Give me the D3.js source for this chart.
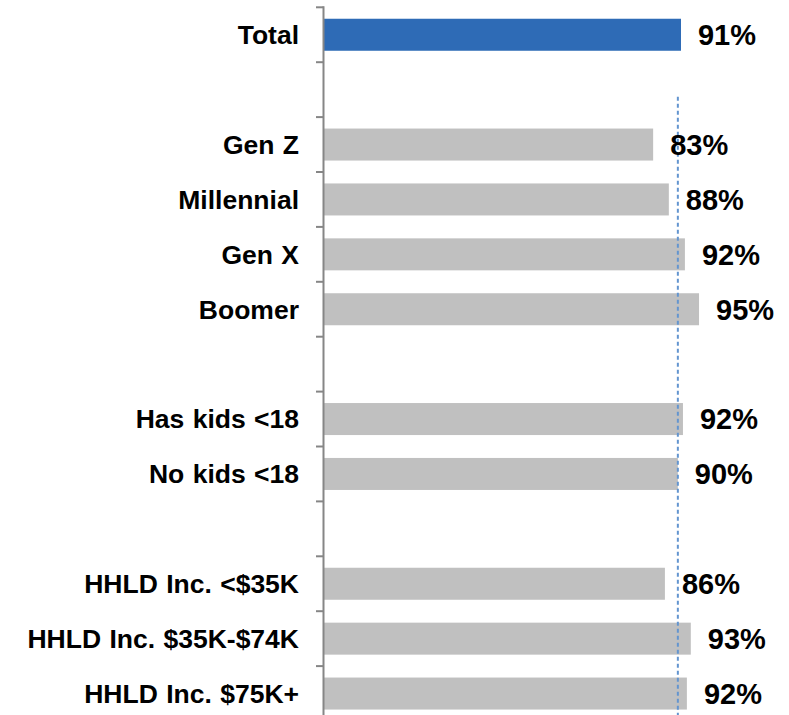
<!DOCTYPE html>
<html>
<head>
<meta charset="utf-8">
<script src="https://cdn.jsdelivr.net/npm/d3@7"></script>
<style>
  body { margin: 0; background: #fff; }
  svg { display: block; }
</style>
</head>
<body>
<div id="chart"></div>
<script>
// rows, blank strings are the gaps between groups
const categories = ["Total", "", "Gen Z", "Millennial", "Gen X", "Boomer", "",
    "Has kids <18", "No kids <18", "", "HHLD Inc. <$35K", "HHLD Inc. $35K-$74K", "HHLD Inc. $75K+"];
// bar lengths (share), null = gap row
const values = [0.910, null, 0.839, 0.879, 0.920, 0.956, null, 0.915, 0.902, null, 0.869, 0.935, 0.925];
const valueLabels = ["91%", "", "83%", "88%", "92%", "95%", "", "92%", "90%", "", "86%", "93%", "92%"];
const referenceValue = 0.902;

const width = 789, height = 715;
const axisX = 324;

const svg = d3.select("#chart").append("svg")
    .attr("width", width)
    .attr("height", height);

const y = d3.scaleBand()
    .domain(d3.range(categories.length))
    .range([7.3, 7.3 + 54.9 * categories.length])
    .paddingInner(0.417)
    .paddingOuter(0.2085);

const x = d3.scaleLinear()
    .domain([0, 1])
    .range([axisX, axisX + 392.3]);

const rows = d3.range(categories.length).filter(i => values[i] !== null);

// bars
svg.append("g")
    .selectAll("rect")
    .data(rows)
    .enter()
    .append("rect")
    .attr("x", x(0))
    .attr("y", i => y(i))
    .attr("width", i => x(values[i]) - x(0))
    .attr("height", y.bandwidth())
    .attr("fill", i => i === 0 ? "#2e6bb6" : "#c0c0c0");

// dashed reference line
svg.append("line")
    .attr("x1", x(referenceValue))
    .attr("x2", x(referenceValue))
    .attr("y1", y(1) + 23)
    .attr("y2", height)
    .attr("stroke", "#6395d0")
    .attr("stroke-width", 2)
    .attr("stroke-dasharray", "4,3");

// axis line with ticks on the band boundaries
const step = y.step();
const y0 = y.range()[0];
const axis = svg.append("g").attr("stroke", "#868686").attr("stroke-width", 2);
axis.append("line")
    .attr("x1", axisX - 0.5).attr("x2", axisX - 0.5)
    .attr("y1", y0 - 1).attr("y2", height);
axis.selectAll("line.tick")
    .data(d3.range(categories.length + 1))
    .enter()
    .append("line")
    .attr("class", "tick")
    .attr("x1", axisX - 8).attr("x2", axisX - 0.5)
    .attr("y1", i => y0 + i * step)
    .attr("y2", i => y0 + i * step);

// category labels
svg.append("g")
    .selectAll("text")
    .data(rows)
    .enter()
    .append("text")
    .attr("x", 299)
    .attr("y", i => y(i) + y.bandwidth() / 2)
    .attr("dy", "0.35em")
    .attr("text-anchor", "end")
    .style("font-family", "'Liberation Sans', Arial, sans-serif")
    .style("font-weight", "bold")
    .style("font-size", "26.5px")
    .style("word-spacing", "1px")
    .attr("fill", "#000")
    .text(i => categories[i]);

// value labels
svg.append("g")
    .selectAll("text")
    .data(rows)
    .enter()
    .append("text")
    .attr("x", i => x(values[i]) + 17)
    .attr("y", i => y(i) + y.bandwidth() / 2)
    .attr("dy", "0.36em")
    .style("font-family", "'Liberation Sans', Arial, sans-serif")
    .style("font-weight", "bold")
    .style("font-size", "29px")
    .attr("fill", "#000")
    .text(i => valueLabels[i]);
</script>
</body>
</html>
